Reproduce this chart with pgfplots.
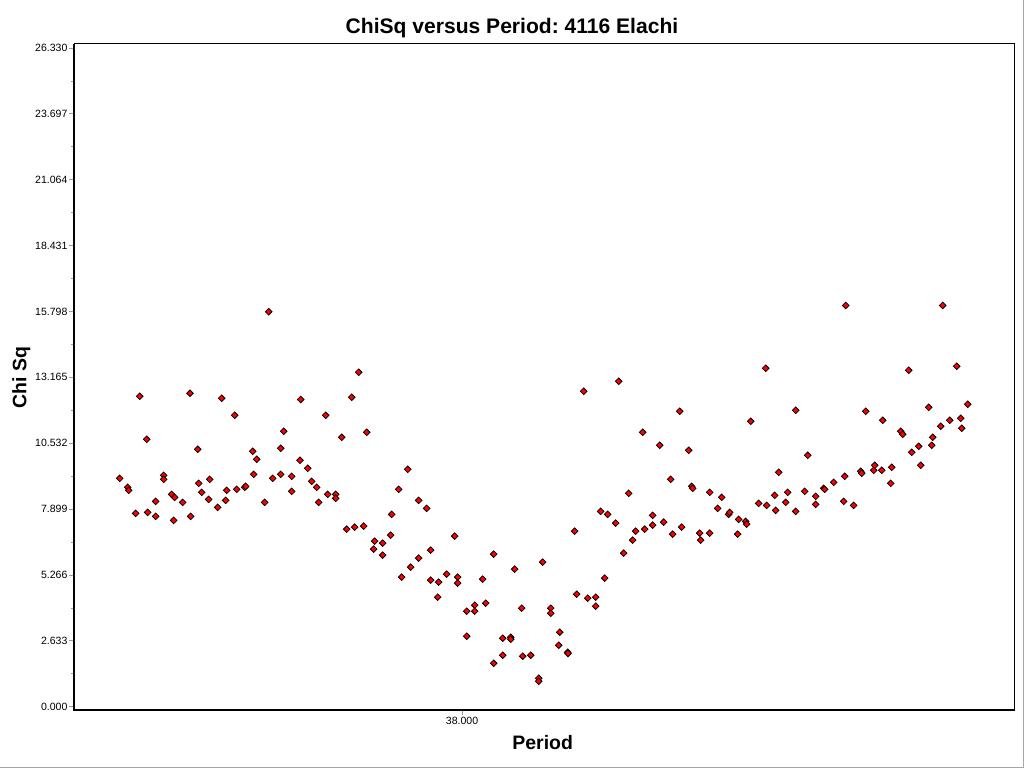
\documentclass[border=0pt]{standalone}
\usepackage{pgfplots}
\pgfplotsset{compat=1.18}
\usepackage{fontspec}
\setmainfont{Liberation Sans}
\frenchspacing
\begin{document}
\begin{tikzpicture}
\useasboundingbox (0,0) rectangle (768pt,576pt);
\fill[white] (0,0) rectangle (768pt,576pt);
\begin{axis}[
  at={(55.5pt,43.5pt)}, anchor=south west,
  scale only axis, width=705pt, height=499.5pt,
  xmin=37.612, xmax=38.552, ymin=-0.13, ymax=26.49,
  axis line style={black, line width=0.75pt},
  tick align=outside, tick pos=left,
  major tick length=3.75pt, minor tick length=2.2pt,
  every tick/.style={gray!80, line width=0.6pt},
  xtick={38}, ytick={0,2.633,5.266,7.899,10.532,13.165,15.798,18.431,21.064,23.697,26.330},
  minor y tick num=1,
  /pgf/number format/assume math mode=true,
  /pgf/number format/.cd, fixed, fixed zerofill, precision=3, /tikz/.cd,
  tick label style={font=\fontsize{7.9}{9}\selectfont, text=black},
  yticklabel style={inner sep=1pt},
  xticklabel style={inner sep=1.5pt},
  scaled ticks=false,
  clip=false,
]
\addplot[only marks, mark=square*, mark size=1.75pt,
  mark options={rotate=45, fill=red, draw=black, line width=0.6pt}] table[row sep=\\] {
x y\\
37.6577 9.13\\ 37.6657 8.77\\ 37.6667 8.65\\ 37.6737 7.73\\ 37.6777 12.41\\
37.6847 10.69\\ 37.6857 7.77\\ 37.6937 8.21\\ 37.6937 7.61\\ 37.7017 9.25\\
37.7017 9.09\\ 37.7097 8.49\\ 37.7117 7.45\\ 37.7127 8.37\\ 37.7207 8.17\\
37.7280 12.53\\ 37.7287 7.61\\ 37.7357 10.29\\ 37.7367 8.93\\ 37.7397 8.57\\
37.7467 8.29\\ 37.7477 9.09\\ 37.7557 7.97\\ 37.7597 12.33\\ 37.7637 8.25\\
37.7647 8.65\\ 37.7727 11.65\\ 37.7747 8.69\\ 37.7827 8.77\\ 37.7837 8.81\\
37.7907 10.21\\ 37.7917 9.29\\ 37.7947 9.89\\ 37.8027 8.17\\ 37.8067 15.79\\
37.8107 9.13\\ 37.8187 10.33\\ 37.8187 9.29\\ 37.8217 11.01\\ 37.8297 9.21\\
37.8297 8.61\\ 37.8387 12.28\\ 37.8380 9.85\\ 37.8457 9.53\\ 37.8497 9.01\\
37.8547 8.77\\ 37.8567 8.17\\ 37.8637 11.65\\ 37.8657 8.49\\ 37.8737 8.49\\
37.8737 8.33\\ 37.8797 10.77\\ 37.8847 7.10\\ 37.8897 12.37\\ 37.8927 7.18\\
37.8967 13.37\\ 37.9017 7.22\\ 37.9047 10.97\\ 37.9117 6.30\\ 37.9127 6.62\\
37.9207 6.54\\ 37.9207 6.06\\ 37.9287 6.86\\ 37.9297 7.69\\ 37.9367 8.69\\
37.9397 5.18\\ 37.9457 9.49\\ 37.9487 5.58\\ 37.9567 8.25\\ 37.9567 5.94\\
37.9647 7.93\\ 37.9687 6.26\\ 37.9687 5.06\\ 37.9757 4.38\\ 37.9767 4.98\\
37.9847 5.30\\ 37.9927 6.82\\ 37.9957 5.18\\ 37.9957 4.94\\ 38.0047 3.82\\
38.0047 2.82\\ 38.0127 4.06\\ 38.0127 3.82\\ 38.0207 5.10\\ 38.0237 4.14\\
38.0317 6.10\\ 38.0317 1.74\\ 38.0407 2.74\\ 38.0407 2.06\\ 38.0487 2.78\\
38.0487 2.70\\ 38.0527 5.50\\ 38.0597 3.94\\ 38.0607 2.02\\ 38.0687 2.06\\
38.0767 1.14\\ 38.0767 1.02\\ 38.0807 5.78\\ 38.0887 3.94\\ 38.0887 3.74\\
38.0967 2.46\\ 38.0977 2.98\\ 38.1057 2.18\\ 38.1060 2.13\\ 38.1127 7.02\\
38.1147 4.50\\ 38.1217 12.61\\ 38.1257 4.34\\ 38.1337 4.38\\ 38.1337 4.02\\
38.1387 7.81\\ 38.1427 5.14\\ 38.1457 7.69\\ 38.1537 7.34\\ 38.1567 13.01\\
38.1617 6.14\\ 38.1667 8.53\\ 38.1707 6.66\\ 38.1737 7.02\\ 38.1807 10.97\\
38.1827 7.10\\ 38.1907 7.65\\ 38.1907 7.26\\ 38.1977 10.45\\ 38.2017 7.38\\
38.2087 9.09\\ 38.2107 6.90\\ 38.2177 11.81\\ 38.2197 7.18\\ 38.2267 10.25\\
38.2297 8.81\\ 38.2307 8.73\\ 38.2377 6.94\\ 38.2387 6.66\\ 38.2477 8.57\\
38.2477 6.94\\ 38.2557 7.93\\ 38.2597 8.37\\ 38.2667 7.69\\ 38.2677 7.77\\
38.2757 6.90\\ 38.2767 7.49\\ 38.2837 7.41\\ 38.2847 7.30\\ 38.2887 11.41\\
38.2967 8.13\\ 38.3037 13.53\\ 38.3047 8.05\\ 38.3127 8.45\\ 38.3137 7.85\\
38.3167 9.37\\ 38.3237 8.17\\ 38.3257 8.57\\ 38.3337 11.85\\ 38.3337 7.81\\
38.3427 8.61\\ 38.3457 10.05\\ 38.3537 8.41\\ 38.3537 8.09\\ 38.3617 8.73\\
38.3627 8.69\\ 38.3717 8.97\\ 38.3817 8.21\\ 38.3827 9.21\\ 38.3837 16.04\\
38.3917 8.05\\ 38.3987 9.41\\ 38.3997 9.33\\ 38.4037 11.81\\ 38.4117 9.45\\
38.4127 9.65\\ 38.4197 9.45\\ 38.4207 11.45\\ 38.4287 8.93\\ 38.4297 9.57\\
38.4387 11.01\\ 38.4407 10.89\\ 38.4467 13.45\\ 38.4497 10.17\\ 38.4567 10.41\\
38.4587 9.65\\ 38.4667 11.97\\ 38.4697 10.45\\ 38.4707 10.77\\ 38.4787 11.21\\
38.4807 16.04\\ 38.4877 11.45\\ 38.4947 13.61\\ 38.4987 11.53\\ 38.4997 11.13\\
38.5057 12.09\\
};
\draw[black, line width=1.8pt] (rel axis cs:0,1) -- (rel axis cs:0,0) -- (rel axis cs:1,0);
\end{axis}
\node[anchor=base, font=\fontsize{15.8}{18}\selectfont\bfseries] at (384pt,550.5pt) {ChiSq versus Period: 4116 Elachi};
\node[anchor=base, font=\fontsize{14.6}{17}\selectfont\bfseries] at (407pt,14.25pt) {Period};
\node[rotate=90, font=\fontsize{14.6}{17}\selectfont\bfseries] at (16pt,293pt) {Chi Sq};
\draw[gray!70, line width=0.75pt] (0,0.4pt) -- (767.6pt,0.4pt) -- (767.6pt,576pt);
\end{tikzpicture}
\end{document}
